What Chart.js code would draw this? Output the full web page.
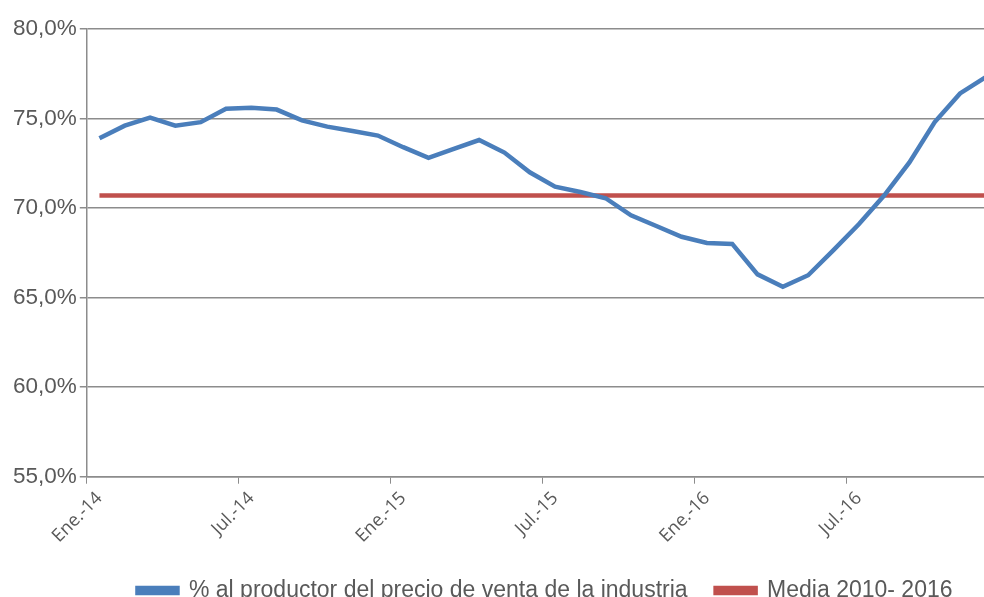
<!DOCTYPE html>
<html>
<head>
<meta charset="utf-8">
<script src="https://cdn.jsdelivr.net/npm/chart.js@4"></script>
<style>
  html, body { margin: 0; padding: 0; background: #fff; }
  #wrap { width: 984px; height: 597px; overflow: hidden; }
</style>
</head>
<body>
<div id="wrap"><canvas id="chart" width="1080" height="612"></canvas></div>
<script>
const months = ['Ene.', 'Feb.', 'Mar.', 'Abr.', 'May.', 'Jun.', 'Jul.', 'Ago.', 'Sep.', 'Oct.', 'Nov.', 'Dic.'];
const years = ['14', '15', '16'];
const labels = [];
years.forEach(y => months.forEach(m => labels.push(m + '-' + y)));

const productorPct = [
  73.9, 74.6, 75.05, 74.6, 74.8, 75.55, 75.6, 75.5, 74.9, 74.55, 74.3, 74.05,
  73.4, 72.8, 73.3, 73.8, 73.1, 72.0, 71.2, 70.9, 70.55, 69.6, 69.0, 68.4,
  68.05, 68.0, 66.3, 65.6, 66.25, 67.65, 69.1, 70.7, 72.55, 74.8, 76.4, 77.3
];
const mediaValue = 70.7;
const media = labels.map(() => mediaValue);

const gray = '#595959';
const gridGray = '#8c8c8c';

new Chart(document.getElementById('chart').getContext('2d'), {
  type: 'line',
  data: {
    labels: labels,
    datasets: [{
      label: '% al productor del precio de venta de la industria',
      data: productorPct,
      borderColor: '#4a7ebb',
      backgroundColor: '#4a7ebb',
      borderWidth: 4.5,
      pointRadius: 0,
      tension: 0
    }, {
      label: 'Media 2010- 2016',
      data: media,
      borderColor: '#c0504d',
      backgroundColor: '#c0504d',
      borderWidth: 4.5,
      pointRadius: 0,
      tension: 0
    }]
  },
  options: {
    responsive: false,
    animation: false,
    devicePixelRatio: 1,
    layout: { padding: { top: 29, left: 10, right: 0, bottom: 0 } },
    plugins: {
      tooltip: { enabled: false },
      legend: {
        position: 'bottom',
        labels: {
          color: gray,
          font: { family: 'Liberation Sans', size: 23 },
          boxWidth: 40,
          boxHeight: 5,
          padding: 28
        }
      }
    },
    scales: {
      x: {
        offset: true,
        grid: {
          offset: true,
          drawOnChartArea: false,
          color: ctx => (ctx.index % 6 === 0 ? gridGray : 'rgba(0,0,0,0)'),
          tickLength: 7
        },
        border: { color: gridGray, width: 1.5 },
        ticks: {
          autoSkip: false,
          maxRotation: 45,
          minRotation: 45,
          padding: 4,
          color: gray,
          font: { family: 'Open Sans', size: 18 },
          callback: function (v, i) {
            return i % 6 === 0 ? labels[i] : '';
          }
        }
      },
      y: {
        min: 55,
        max: 80,
        grid: { color: gridGray, lineWidth: 1.5, tickLength: 7 },
        border: { color: gridGray, width: 1.5 },
        ticks: {
          stepSize: 5,
          color: gray,
          padding: 3,
          font: { family: 'Liberation Sans', size: 22.5 },
          callback: v => v.toFixed(1).replace('.', ',') + '%'
        }
      },
      yRight: {
        position: 'right',
        display: true,
        grid: { display: false },
        border: { display: false },
        ticks: { display: false },
        afterFit: s => { s.width = 82; }
      }
    }
  }
});
</script>
</body>
</html>
